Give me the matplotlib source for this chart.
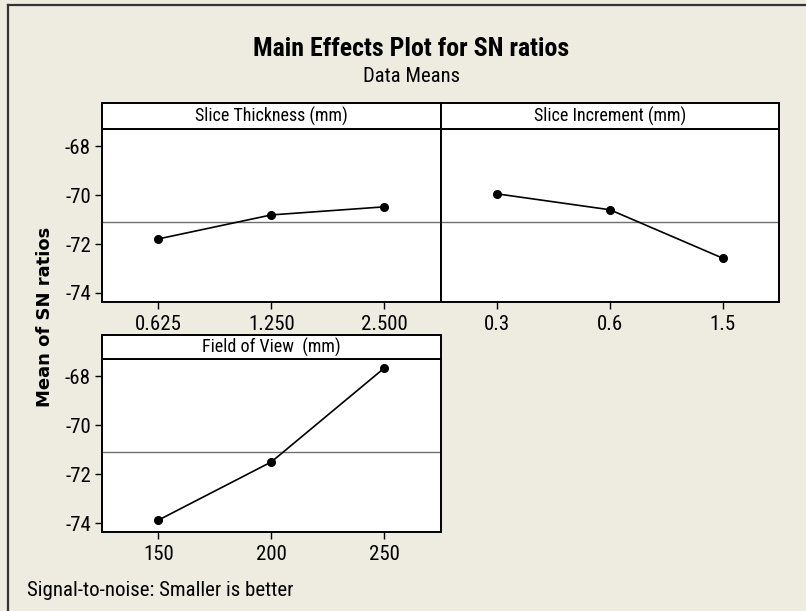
import matplotlib
matplotlib.use('Agg')
import matplotlib.pyplot as plt
from matplotlib import font_manager
from matplotlib.lines import Line2D

# factor levels and mean S/N ratios
thickness_levels = ['0.625', '1.250', '2.500']
thickness_sn = [-71.79, -70.81, -70.48]
increment_levels = ['0.3', '0.6', '1.5']
increment_sn = [-69.95, -70.60, -72.58]
fov_levels = ['150', '200', '250']
fov_sn = [-73.88, -71.50, -67.66]
grand_mean = -71.1
y_ticks = [-74, -72, -70, -68]

panel_titles = ['Slice Thickness (mm)', 'Slice Increment (mm)', 'Field of View  (mm)']

# the original uses a condensed face; take the narrowest one we have
installed = {f.name for f in font_manager.fontManager.ttflist}
for name, s in [('Liberation Sans Narrow', 1.0), ('Roboto Condensed', 1.0),
                ('Open Sans Condensed', 0.95), ('Liberation Sans', 0.86)]:
    if name in installed:
        face, scale = name, s
        break
else:
    face, scale = 'DejaVu Sans', 0.8

plt.rcParams['font.family'] = [face, 'DejaVu Sans']
bg = '#EEEBE1'
fs_tick = 15 * scale
fs_head = 13 * scale

W, H = 806, 611
fig = plt.figure(figsize=(W / 100, H / 100), dpi=100, facecolor=bg)


def px_box(x0, y0, x1, y1):
    # pixel box (top-left origin) -> figure fraction rect
    return [x0 / W, (H - y1) / H, (x1 - x0) / W, (y1 - y0) / H]


def panel(rect, head_rect, title, levels, values, show_yticks):
    ax = fig.add_axes(px_box(*rect))
    x = list(range(1, len(levels) + 1))
    ax.axhline(grand_mean, color='#707070', lw=1.0, zorder=1)
    ax.plot(x, values, color='black', lw=1.2, marker='o', ms=5.5, zorder=3)
    ax.set_xlim(0.5, 3.5)
    ax.set_ylim(-74.38, -67.3)
    ax.set_xticks(x)
    ax.set_xticklabels(levels)
    ax.set_yticks(y_ticks)
    ax.set_yticklabels([str(v) for v in y_ticks] if show_yticks else [])
    ax.tick_params(axis='x', length=5, width=1, pad=4, labelsize=fs_tick)
    ax.tick_params(axis='y', length=5 if show_yticks else 0, width=1, pad=3,
                   labelsize=fs_tick)
    for s in ax.spines.values():
        s.set_linewidth(1.4)
    ax.set_facecolor('white')

    hx = fig.add_axes(px_box(*head_rect))
    hx.set_xticks([])
    hx.set_yticks([])
    hx.set_facecolor('white')
    for s in hx.spines.values():
        s.set_linewidth(1.4)
    hx.text(0.5, 0.5, title, ha='center', va='center', fontsize=fs_head,
            transform=hx.transAxes)
    return ax


panel((102, 129, 440.7, 302.3), (102, 103.3, 440.7, 129), panel_titles[0],
      thickness_levels, thickness_sn, True)
panel((440.7, 129, 779.3, 302.3), (440.7, 103.3, 779.3, 129), panel_titles[1],
      increment_levels, increment_sn, False)
panel((102, 359.3, 440.7, 532.3), (102, 335, 440.7, 359.3), panel_titles[2],
      fov_levels, fov_sn, True)

fig.text(411.5 / W, 1 - 49 / H, 'Main Effects Plot for SN ratios', ha='center',
         va='center', fontsize=18.6 * scale, fontweight='bold')
fig.text(411.5 / W, 1 - 77 / H, 'Data Means', ha='center', va='center',
         fontsize=14.9 * scale)
fig.text(45 / W, 1 - 317 / H, 'Mean of SN ratios', rotation=90, ha='center',
         va='center', fontsize=13, fontweight='bold', family='DejaVu Sans')
fig.text(27 / W, 1 - 590 / H, 'Signal-to-noise: Smaller is better', ha='left',
         va='center', fontsize=15 * scale)

# frame edges of the original window
fig.add_artist(Line2D([8.3 / W, 8.3 / W], [0, 1 - 5 / H], color='#333333', lw=1.6))
fig.add_artist(Line2D([8.3 / W, 1], [1 - 5 / H, 1 - 5 / H], color='#333333', lw=1.6))

fig.savefig('out.png', dpi=100, facecolor=bg)
